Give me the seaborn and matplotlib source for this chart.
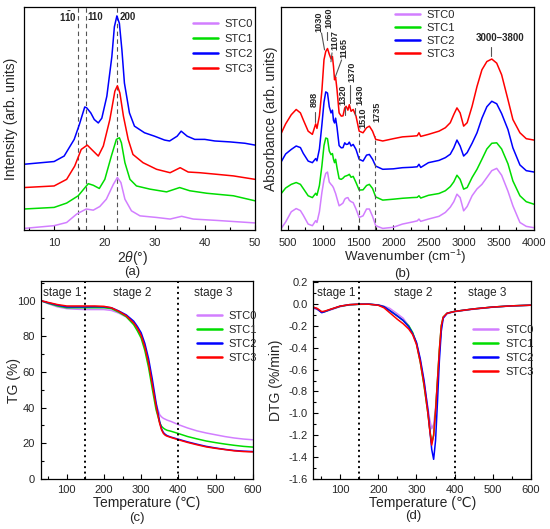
import pandas as pd
import matplotlib
matplotlib.use("Agg")
import matplotlib.pyplot as plt
from matplotlib.ticker import MultipleLocator, FormatStrFormatter
import seaborn as sns

samples = ["STC0", "STC1", "STC2", "STC3"]
colors = ["#D27EFF", "#00DD00", "#0000FF", "#FF0000"]

# (a) XRD, 2theta vs intensity (curves already stacked)
xrd_stc0_x = [4, 10, 12.5, 14.5, 16.4, 17.8, 19.1, 20.4, 21.8, 22.6, 23.3, 24.1, 25.4, 27.1, 30.4, 33.1, 35.4, 37.7, 42.4, 50]
xrd_stc0_y = [0.7, 1.9, 3.3, 7, 9.2, 8.7, 10.3, 13.5, 20, 23, 20.8, 13.5, 8.4, 6.2, 5.5, 4.8, 6, 4.8, 4.2, 3.1]
xrd_stc1_x = [4, 10, 12.5, 14.8, 16.8, 17.8, 19, 20.1, 21.4, 22.4, 23, 23.4, 24.1, 25.1, 26.4, 29.1, 32.4, 35, 37, 40.4, 45.7, 50]
xrd_stc1_y = [9.2, 9.9, 11.8, 15, 20.3, 19.6, 18.2, 22.2, 32.4, 39.7, 40.4, 38.2, 29.5, 22.2, 19.3, 17.9, 16.7, 18.6, 17.2, 16.1, 15, 12.8]
xrd_stc2_x = [4, 10, 12, 14, 15, 16.1, 16.5, 17.3, 18, 18.8, 19.5, 20.5, 21.5, 22, 22.5, 23, 23.5, 24, 25, 26, 28, 30, 32, 33, 34.5, 35.3, 36.5, 38, 40, 42, 45, 48, 50]
xrd_stc2_y = [28.8, 30, 32.4, 39.7, 46, 53.9, 53.5, 51.3, 48.4, 46.9, 49, 58.6, 76, 89, 93.8, 90.5, 78.9, 64.4, 51.3, 45.5, 42.6, 41.1, 39.4, 39, 41.1, 43.3, 41.1, 39.7, 39.7, 39, 38.6, 38, 37.2]
xrd_stc3_x = [4, 10, 12.5, 14.1, 15.4, 16.6, 17.6, 18.8, 19.8, 21.1, 22.1, 22.6, 23.1, 23.8, 24.75, 25.7, 27.7, 30.4, 33.1, 35.1, 36.7, 39, 42.4, 45.7, 50]
xrd_stc3_y = [18.6, 19.3, 22.2, 28, 35.3, 37.2, 35, 32.4, 36.8, 48.4, 60.8, 63.2, 60, 49.9, 39.7, 33.1, 29.5, 26.6, 25.1, 27.3, 25.4, 25.1, 24.4, 23.7, 22.2]
xrd_lines = [14.8, 16.3, 22.6]

# (b) FTIR, wavenumber vs absorbance (curves already stacked)
ftir_x = [400, 470, 550, 620, 680, 720, 790, 850, 897, 915, 950, 985, 1015, 1040, 1065, 1090, 1115, 1135,
          1150, 1165, 1180, 1200, 1230, 1260, 1285, 1310, 1330, 1355, 1375, 1400, 1430, 1470, 1515, 1570,
          1620, 1660, 1705, 1750, 1850, 2000, 2130, 2270, 2340, 2365, 2390, 2500, 2650, 2740, 2810, 2860,
          2905, 2950, 3000, 3050, 3120, 3190, 3260, 3330, 3400, 3470, 3540, 3630, 3700, 3800, 3890, 4000]
ftir_stc0 = [0.4, 3.5, 8, 9.4, 8.5, 6.5, 2.6, 1.9, 4.1, 3.3, 8, 16.4, 22, 24.8, 25.4, 21, 20, 19.3,
             18.5, 17.2, 16, 13.8, 10.6, 11.2, 11.8, 13.5, 14, 14.2, 13, 12.4, 12, 9.2, 5.5, 6.2,
             9.2, 9.2, 6, 1.9, 0.7, 1.2, 2.6, 3.5, 4, 4.8, 3.8, 4.8, 6, 7.7, 10, 12.4,
             15.7, 14.2, 8.4, 10.3, 15, 18, 20, 23, 26, 27, 24, 17, 10.6, 3.3, 1.6, 1]
ftir_stc1 = [15.7, 18.4, 20, 20.8, 20, 18.2, 15, 14.2, 16.1, 15.2, 19.5, 28, 37, 40.3, 40, 34.6, 33, 33.5,
             31, 29.5, 31, 27.3, 22.5, 22.2, 22.7, 23.5, 23.7, 24, 24.4, 23.1, 23.5, 20.8, 17.5, 17.6,
             19.5, 20, 18.2, 14.5, 13.1, 13.5, 13.9, 14.2, 14.3, 15, 14, 15.2, 16, 17.2, 19, 21.1,
             24, 22.2, 17.9, 18.6, 23, 26.6, 31, 35.5, 38, 38.2, 35.5, 29, 21.5, 15, 12.4, 11.3]
ftir_stc2 = [29.5, 33.3, 35.3, 36.8, 36.1, 33.6, 30.2, 29.5, 31.3, 30.3, 35.5, 46, 56, 60.5, 60, 54, 51.3, 52.5,
             48, 46.9, 49, 45, 37, 36, 36.1, 38.2, 37.5, 37.6, 38.5, 36.8, 37.5, 35.3, 31, 30.2,
             32.8, 33.1, 31, 28, 26.6, 26.8, 27.3, 27.5, 27.7, 28.8, 27.4, 29.5, 30.5, 31.7, 33.2, 36,
             39.4, 36.8, 32.4, 33.9, 38, 42.6, 49, 54, 56.4, 55.3, 51, 44, 36, 28.5, 26, 25.4]
ftir_stc3 = [41.9, 46.5, 50.5, 52.8, 51.3, 48.3, 43.3, 41.9, 46.5, 44.5, 50, 61, 74.6, 78.2, 79.5, 77, 75, 76,
             71.7, 65.8, 67, 61.5, 51.3, 49.9, 50, 53.5, 54.2, 52.5, 54.9, 52, 52.8, 49.9, 43.3, 42.6,
             44.8, 45.5, 43.3, 39.7, 39, 40, 40.8, 41.1, 41.3, 42.6, 41, 41.9, 43.3, 44.8, 47, 50.6,
             53.5, 51.3, 45.5, 47, 54.2, 62.9, 70.2, 73.8, 74.9, 73.1, 68, 57.1, 48.4, 42.6, 40, 39.4]
ftir_peaks = ["898", "1030", "1060", "1107", "1165", "1320", "1370", "1430", "1510", "1735"]

# (c) TG and (d) DTG
tg_temp = [30, 50, 75, 100, 125, 150, 175, 200, 220, 240, 260, 280, 290, 300, 310, 320, 330,
           340, 350, 355, 360, 365, 370, 380, 400, 425, 450, 475, 500, 525, 550, 575, 600]
tg_stc0 = [100, 98.3, 96.5, 95.5, 95.2, 95, 95, 95, 94.5, 93, 90.8, 87, 84, 80, 73.5, 64.5, 53,
           42, 36, 34.8, 34, 33.5, 33, 32.3, 30.5, 28.6, 27, 25.8, 24.8, 23.8, 23, 22.4, 22]
tg_stc1 = [100, 98.5, 97, 96, 96, 96, 96, 96, 95.5, 93.5, 91, 86.5, 83, 79, 72, 62.5, 50.5,
           39, 31.5, 29.5, 28.5, 27.8, 27.3, 26.8, 25.5, 23.8, 22.5, 21.3, 20.4, 19.6, 18.9, 18.3, 17.9]
tg_stc2 = [100, 98.8, 97.5, 96.5, 96.5, 96.5, 96.6, 96.5, 96, 94.2, 92, 88.5, 85.5, 82, 76, 67.5, 56,
           43, 32, 28, 26, 25, 24.3, 23.5, 22.3, 20.8, 19.5, 18.3, 17.4, 16.6, 16, 15.6, 15.4]
tg_stc3 = [100, 99, 97.8, 97, 97, 97, 97, 96.8, 96, 94, 91.5, 87.5, 84.5, 80.5, 74, 65, 53,
           41, 31, 27.5, 25.5, 24.5, 24, 23.3, 22, 20.5, 19.2, 18, 17.2, 16.5, 15.8, 15.4, 15.2]

dtg_temp = [30, 40, 52, 60, 75, 100, 125, 150, 175, 200, 215, 230, 250, 265, 280, 290, 300,
            310, 320, 330, 335, 340, 345, 350, 355, 360, 365, 370, 380, 400, 450, 500, 550, 600]
dtg_stc0 = [-0.04, -0.05, -0.075, -0.07, -0.055, -0.025, -0.008, -0.003, -0.002, -0.008, -0.02, -0.04, -0.09, -0.13, -0.2, -0.27, -0.36,
            -0.52, -0.72, -0.95, -1.06, -1.14, -1.1, -0.95, -0.72, -0.45, -0.22, -0.13, -0.09, -0.07, -0.048, -0.03, -0.018, -0.012]
dtg_stc1 = [-0.03, -0.045, -0.075, -0.07, -0.05, -0.022, -0.007, -0.003, -0.002, -0.01, -0.025, -0.06, -0.11, -0.15, -0.2, -0.26, -0.36,
            -0.53, -0.75, -1.0, -1.15, -1.27, -1.2, -0.98, -0.7, -0.42, -0.2, -0.12, -0.085, -0.068, -0.045, -0.028, -0.017, -0.011]
dtg_stc2 = [-0.03, -0.045, -0.08, -0.07, -0.05, -0.02, -0.006, -0.002, -0.001, -0.01, -0.025, -0.06, -0.11, -0.15, -0.21, -0.27, -0.35,
            -0.5, -0.7, -0.97, -1.15, -1.33, -1.42, -1.25, -0.9, -0.52, -0.25, -0.13, -0.085, -0.068, -0.045, -0.028, -0.017, -0.011]
dtg_stc3 = [-0.03, -0.04, -0.07, -0.065, -0.048, -0.02, -0.006, -0.002, -0.002, -0.012, -0.035, -0.08, -0.14, -0.18, -0.23, -0.28, -0.37,
            -0.53, -0.74, -1.0, -1.16, -1.29, -1.2, -0.98, -0.7, -0.42, -0.2, -0.12, -0.085, -0.068, -0.045, -0.028, -0.017, -0.011]
stage_bounds = [150, 400]
stage_names = ["stage 1", "stage 2", "stage 3"]


def to_long(xs, ys):
    frames = []
    for name, x, y in zip(samples, xs, ys):
        frames.append(pd.DataFrame({"x": x, "y": y, "sample": name}))
    return pd.concat(frames, ignore_index=True)


def draw(ax, df, lw=1.1):
    sns.lineplot(data=df, x="x", y="y", hue="sample", hue_order=samples,
                 palette=dict(zip(samples, colors)), estimator=None, sort=False,
                 linewidth=lw, ax=ax)


def style_axes(ax, xmaj, xmin, ymaj=None, ymin=None, xpad=4):
    ax.xaxis.set_major_locator(MultipleLocator(xmaj))
    ax.xaxis.set_minor_locator(MultipleLocator(xmin))
    if ymaj is None:
        ax.set_yticks([])
    else:
        ax.yaxis.set_major_locator(MultipleLocator(ymaj))
        ax.yaxis.set_minor_locator(MultipleLocator(ymin))
    ax.tick_params(which="both", direction="in", top=False, right=False,
                   labelsize=8, pad=4, width=0.8, color="black")
    ax.tick_params(axis="x", which="both", pad=xpad)
    ax.tick_params(which="major", length=3.5)
    ax.tick_params(which="minor", length=2)
    for sp in ax.spines.values():
        sp.set_visible(True)
        sp.set_color("black")
        sp.set_linewidth(0.9)


def legend(ax, anchor, spacing=0.3):
    sns.move_legend(ax, "upper left", bbox_to_anchor=anchor, frameon=False, title=None,
                    fontsize=8, handlelength=2.3, handletextpad=0.6, labelspacing=spacing,
                    borderaxespad=0, borderpad=0)
    for h in ax.get_legend().legend_handles:
        h.set_linewidth(1.8)


sns.set_theme(style="ticks")
plt.rcParams["font.family"] = ["Liberation Sans", "DejaVu Sans"]
plt.rcParams["mathtext.fontset"] = "custom"
plt.rcParams["mathtext.rm"] = "Liberation Sans"
plt.rcParams["mathtext.it"] = "Liberation Sans:italic"
plt.rcParams["mathtext.bf"] = "Liberation Sans:bold"
plt.rcParams["axes.unicode_minus"] = False

fig = plt.figure(figsize=(5.5, 5.29), dpi=100)
ax_a = fig.add_axes([0.0436, 0.5652, 0.42, 0.4216])
ax_b = fig.add_axes([0.5104, 0.5652, 0.4605, 0.4216])
ax_c = fig.add_axes([0.074, 0.0945, 0.3855, 0.3743])
ax_d = fig.add_axes([0.5697, 0.0945, 0.3958, 0.3743])

# ---- (a) XRD
for xv in xrd_lines:
    ax_a.axvline(xv, color="#555555", lw=0.8, ls=(0, (4, 3)), zorder=1)
draw(ax_a, to_long([xrd_stc0_x, xrd_stc1_x, xrd_stc2_x, xrd_stc3_x],
                   [xrd_stc0_y, xrd_stc1_y, xrd_stc2_y, xrd_stc3_y]))
ax_a.set_xlim(4, 50)
ax_a.set_ylim(0, 97.7)
style_axes(ax_a, 10, 5, xpad=5.5)
ax_a.set_xlabel(r"2$\theta$(°)", fontsize=10, labelpad=0)
ax_a.xaxis.set_label_coords(0.472, -0.086)
ax_a.set_ylabel("Intensity (arb. units)", fontsize=10)
ax_a.yaxis.set_label_coords(-0.026, 0.5)
ax_a.text(xrd_lines[0] - 0.3, 93.5, r"$\mathbf{1\bar{1}0}$", ha="right", va="center", fontsize=7)
ax_a.text(xrd_lines[1] + 0.3, 93.5, "110", ha="left", va="center", fontsize=7, fontweight="bold")
ax_a.text(xrd_lines[2] + 0.4, 93.5, "200", ha="left", va="center", fontsize=7, fontweight="bold")
legend(ax_a, (0.73, 0.945), spacing=0.45)

# ---- (b) FTIR
draw(ax_b, to_long([ftir_x] * 4, [ftir_stc0, ftir_stc1, ftir_stc2, ftir_stc3]))
ax_b.set_xlim(400, 4000)
ax_b.set_ylim(0, 97.7)
style_axes(ax_b, 500, 250, xpad=5.5)
ax_b.set_xlabel(r"Wavenumber (cm$^{-1}$)", fontsize=9.6, labelpad=0)
ax_b.xaxis.set_label_coords(0.49, -0.081)
ax_b.set_ylabel("Absorbance (arb. units)", fontsize=10)
ax_b.yaxis.set_label_coords(-0.011, 0.5)
ax_b.vlines([1510, 1735], 0, [42.7, 41], color="#555555", lw=0.8, ls=(0, (4, 3)))
# label x, label bottom, leader segment
peak_layout = {
    "898": (876, 54, (890, 51.9, 890, 47.5)),
    "1030": (937, 86.7, (980, 86.3, 1023, 78.9)),
    "1060": (1080, 88.5, (1057, 86.7, 1057, 83.3)),
    "1107": (1170, 78.9, (1129, 77.6, 1114, 73.7)),
    "1165": (1300, 75.4, (1265, 74.5, 1176, 67.1)),
    "1320": (1286, 54.9, (1318, 54.0, 1318, 50.6)),
    "1370": (1414, 64.9, (1390, 63.6, 1390, 55.8)),
    "1430": (1523, 54.9, (1461, 53.6, 1461, 50.6)),
    "1510": (1571, 44.9, None),
    "1735": (1771, 47.5, None),
}
for lab in ftir_peaks:
    tx, ty, seg = peak_layout[lab]
    ax_b.text(tx, ty, lab, rotation=90, ha="center", va="bottom", fontsize=6.6, fontweight="bold")
    if seg is not None:
        ax_b.plot([seg[0], seg[2]], [seg[1], seg[3]], color="#555555", lw=0.8)
ax_b.text(3523, 84, "3000–3800", ha="center", va="center", fontsize=7, fontweight="bold")
ax_b.plot([3390, 3390], [80.3, 76.3], color="#555555", lw=0.8)
legend(ax_b, (0.45, 0.985), spacing=0.25)

# ---- (c) TG
draw(ax_c, to_long([tg_temp] * 4, [tg_stc0, tg_stc1, tg_stc2, tg_stc3]))
ax_c.set_xlim(30, 600)
ax_c.set_ylim(0, 111)
style_axes(ax_c, 100, 50, 20, 10)
ax_c.set_xlabel("Temperature (℃)", fontsize=10, labelpad=1)
ax_c.set_ylabel("TG (%)", fontsize=10)
ax_c.yaxis.set_label_coords(-0.093, 0.5)
for b in stage_bounds:
    ax_c.axvline(b, color="black", lw=1.4, ls=(0, (1, 1.8)))
for name, xs in zip(stage_names, [88, 275, 494]):
    ax_c.text(xs, 104.5, name, ha="center", va="center", fontsize=8.5)
legend(ax_c, (0.736, 0.848), spacing=0.35)

# ---- (d) DTG
draw(ax_d, to_long([dtg_temp] * 4, [dtg_stc0, dtg_stc1, dtg_stc2, dtg_stc3]))
ax_d.set_xlim(30, 600)
ax_d.set_ylim(-1.6, 0.21)
style_axes(ax_d, 100, 50, 0.2, 0.1)
ax_d.yaxis.set_major_formatter(FormatStrFormatter("%.1f"))
ax_d.set_xlabel("Temperature (℃)", fontsize=10, labelpad=1)
ax_d.set_ylabel("DTG (%/min)", fontsize=10)
ax_d.yaxis.set_label_coords(-0.139, 0.5)
for b in stage_bounds:
    ax_d.axvline(b, color="black", lw=1.4, ls=(0, (1, 1.8)))
for name, xs in zip(stage_names, [91, 292, 484]):
    ax_d.text(xs, 0.097, name, ha="center", va="center", fontsize=8.5)
legend(ax_d, (0.733, 0.778), spacing=0.35)

# panel captions
for lab, x, y in [("(a)", 132, 272), ("(b)", 402, 274), ("(c)", 137, 518), ("(d)", 413, 516)]:
    fig.text(x / 550, 1 - y / 529, lab, ha="center", va="center", fontsize=9.5)

fig.savefig("out.png", dpi=100)
